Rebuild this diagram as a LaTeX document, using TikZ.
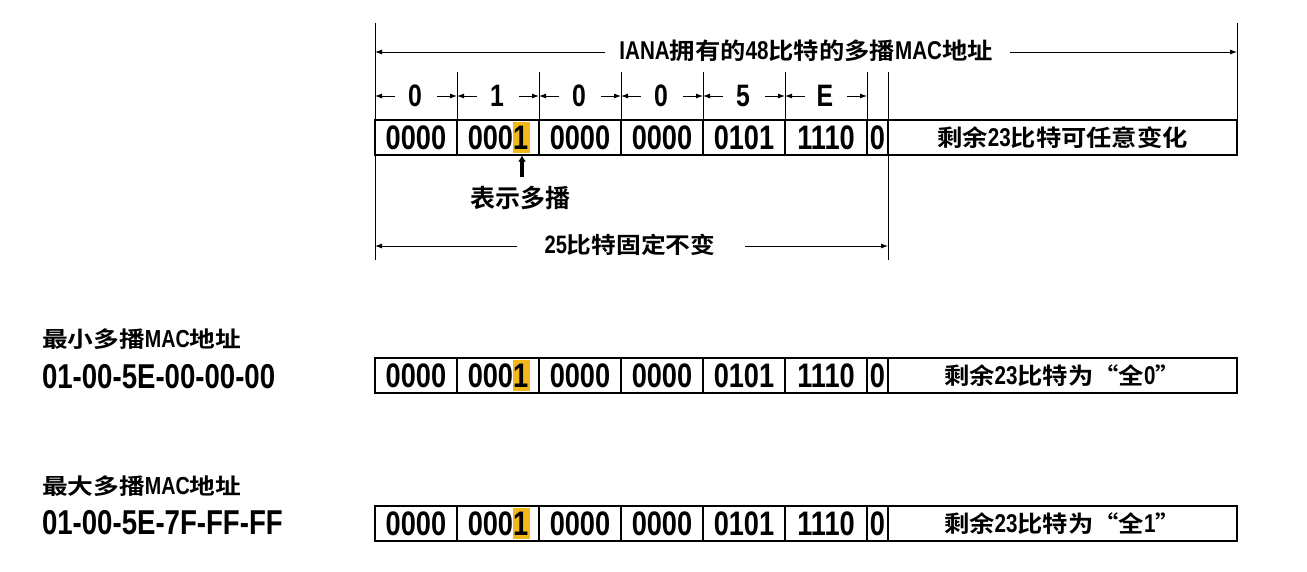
\documentclass[tikz,border=0pt]{standalone}
\usepackage{fontspec}
\usetikzlibrary{arrows.meta}
\newfontfamily\lafont{Liberation Sans}[FakeStretch=0.8,UprightFont=* Bold]
\newfontfamily\laxfont{Liberation Sans}[Scale=1.12,FakeStretch=0.8,UprightFont=* Bold]
\newfontfamily\cjn{Noto Sans CJK SC}[UprightFont=* Bold]
\newfontfamily\cjm{Noto Sans CJK SC}[UprightFont=* Bold,FakeStretch=1.1]
\newfontfamily\cjw{Noto Sans CJK SC}[UprightFont=* Bold,FakeStretch=1.17]
\newcommand\fs[1]{\fontsize{#1}{#1}\selectfont}
\newcommand\LA[1]{{\laxfont#1}}
\definecolor{hlc}{RGB}{244,183,26}
\begin{document}
\begin{tikzpicture}[x=1pt,y=-1pt,
  cell/.style={draw,line width=1.2pt,minimum height=35pt,inner sep=0pt,outer sep=0pt,font=\lafont\fs{34}},
  hlbox/.style={fill=hlc,draw=none,minimum width=17pt,minimum height=31pt,inner sep=0pt,outer sep=0pt},
  hex/.style={font=\lafont\fs{31},inner sep=0pt},
  arr/.style={line width=0.9pt,-{Latex[length=7pt,width=5pt]}},
  thinline/.style={line width=0.9pt},
  upa/.style={line width=3.4pt,-{Latex[length=6pt,width=8pt]}},
  lbl/.style={inner sep=0pt,outer sep=0pt},
]
\useasboundingbox[fill=white] (0,0) rectangle (1307,571);

% three rows of cells
\foreach \r/\y in {a/137.5,b/375.5,c/523.5} {
  \node[hlbox] (hl\r) at (521.5,\y) {};
  \foreach \cx/\w/\t [count=\i] in {416/82/0000,498/82/0001,580/82/0000,662/82/0000,744/82/0101,826/82/1110,877.5/21/0} {
    \node[cell,minimum width=\w pt] (\r\i) at (\cx,\y) {\t};
  }
}
\node[cell,minimum width=349pt,font=\cjm\fs{23}] (a8) at (1062.5,137.5) {剩余\LA{23}比特可任意变化};
\node[cell,minimum width=349pt,font=\cjm\fs{23}] (b8) at (1062.5,375.5) {剩余\LA{23}比特为“全\LA{0}”};
\node[cell,minimum width=349pt,font=\cjm\fs{23}] (c8) at (1062.5,523.5) {剩余\LA{23}比特为“全\LA{1}”};

% frame lines
\coordinate (L0) at (375,23);
\coordinate (L1) at (375,260);
\coordinate (R0) at (1237,23);
\coordinate (B1) at (888,260);
\draw[thinline] (L0) -- (L1);
\draw[thinline] (R0) -- (a8.north east);
\draw[thinline] (a8.south west) -- (B1);
\foreach \i in {2,...,7} {\draw[thinline] (a\i.north west) -- ++(0,-48);}
\draw[thinline] (a7.north east) -- ++(0,-48);

% hex row
\foreach \a/\b/\t [count=\i] in {375/457/0,457/539/1,539/621/0,621/703/0,703/785/5,785/867/E} {
  \node[hex] (h\i) at ({(\a+\b)/2-1},96) {\t};
  \coordinate (hl\i) at (\a,96);
  \coordinate (hr\i) at (\b,96);
  \draw[arr] ([xshift=20pt]hl\i) -- (hl\i);
  \draw[arr] ([xshift=-20pt]hr\i) -- (hr\i);
}

% title arrow
\node[lbl,font=\cjm\fs{23}] (title) at (806,51) {\LA{IANA}拥有的\LA{48}比特的多播\LA{MAC}地址};
\coordinate (t1) at (605,52);
\coordinate (t2) at (375,52);
\coordinate (t3) at (1010,52);
\coordinate (t4) at (1237,52);
\draw[arr] (t1) -- (t2);
\draw[arr] (t3) -- (t4);

% multicast bit arrow
\node[lbl,font=\cjn\fs{25}] (bs) at (520,198) {表示多播};
\coordinate (m0) at (522,177);
\coordinate (m1) at (522,155.5);
\draw[upa] (m0) -- (m1);

% 25 bit arrow
\node[lbl,font=\cjm\fs{22.5}] (fix) at (630,245) {\LA{25}比特固定不变};
\coordinate (f1) at (517,246);
\coordinate (f2) at (375,246);
\coordinate (f3) at (745,246);
\coordinate (f4) at (888,246);
\draw[arr] (f1) -- (f2);
\draw[arr] (f3) -- (f4);

% left labels
\node[lbl,anchor=west,font=\cjw\fs{22}] (minh) at (42,339) {最小多播\LA{MAC}地址};
\node[lbl,anchor=west,font=\lafont\fs{34.5}] (mina) at (42,377) {01-00-5E-00-00-00};
\node[lbl,anchor=west,font=\cjw\fs{22}] (maxh) at (42,486) {最大多播\LA{MAC}地址};
\node[lbl,anchor=west,font=\lafont\fs{34.5}] (maxa) at (42,523) {01-00-5E-7F-FF-FF};
\end{tikzpicture}
\end{document}
